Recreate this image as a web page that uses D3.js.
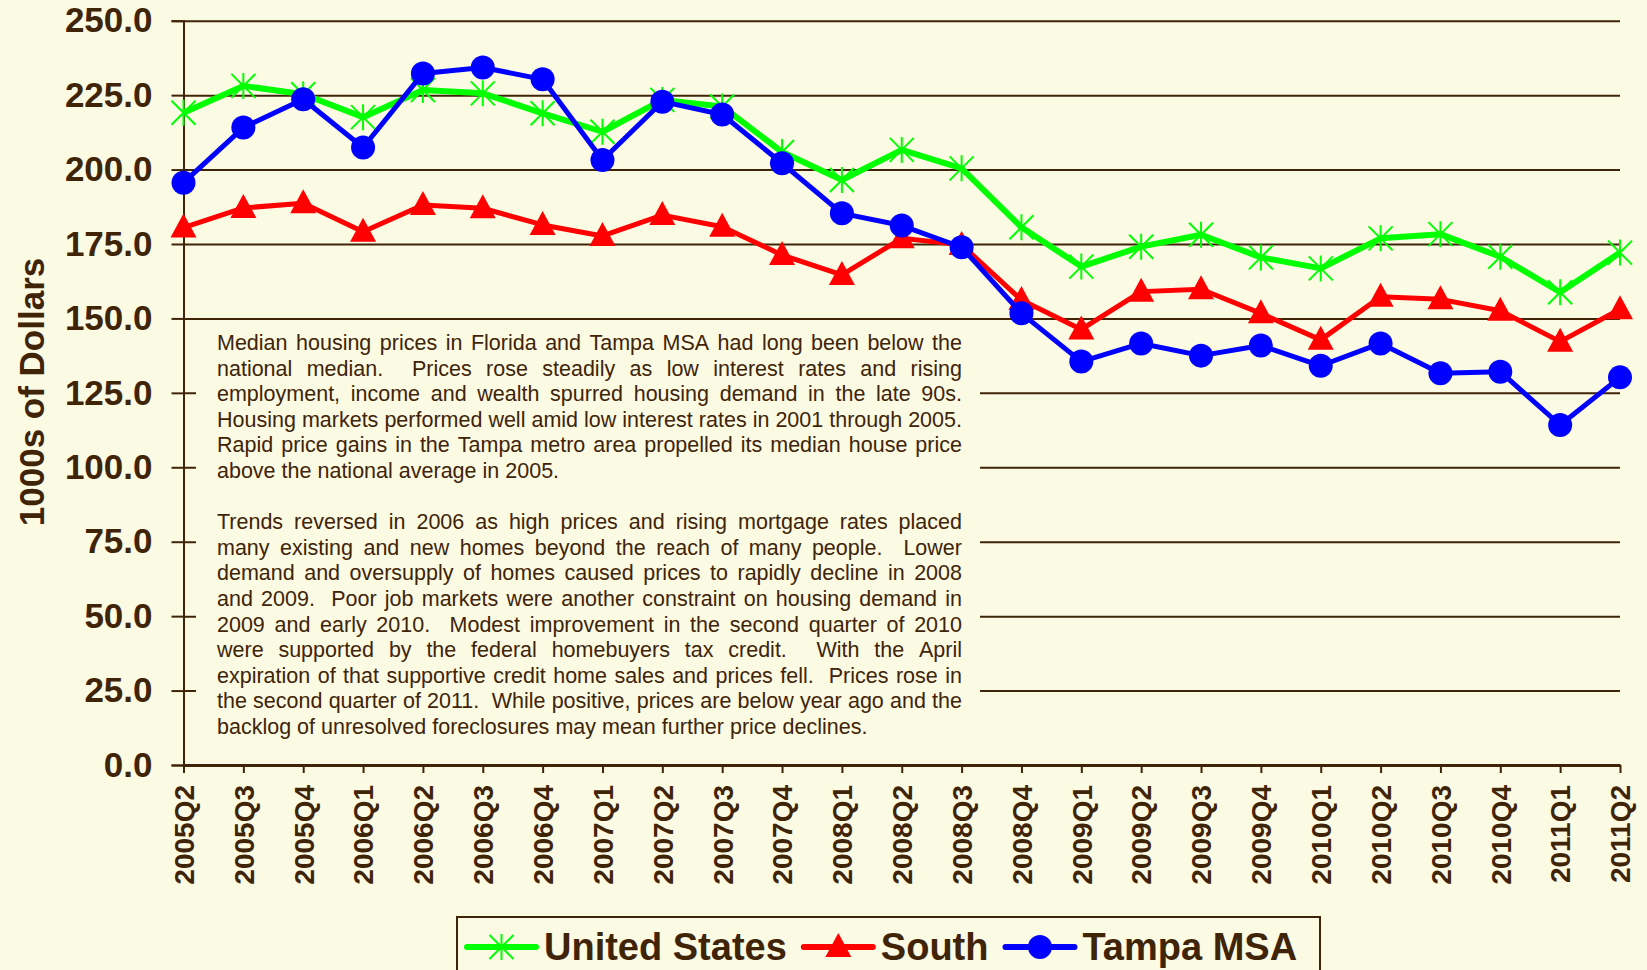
<!DOCTYPE html>
<html><head><meta charset="utf-8">
<script src="https://cdn.jsdelivr.net/npm/d3@7"></script>
<style>html,body{margin:0;padding:0;background:#FBFAE3;} svg{display:block}</style>
</head><body>
<svg id="chart" width="1647" height="970"></svg>
<script>
const categories = ["2005Q2","2005Q3","2005Q4","2006Q1","2006Q2","2006Q3","2006Q4","2007Q1","2007Q2","2007Q3","2007Q4","2008Q1","2008Q2","2008Q3","2008Q4","2009Q1","2009Q2","2009Q3","2009Q4","2010Q1","2010Q2","2010Q3","2010Q4","2011Q1","2011Q2"];
const usValues = [219.1, 228.1, 225.3, 217.6, 226.7, 225.6, 218.9, 212.7, 223.4, 221.2, 205.9, 196.5, 206.6, 200.4, 180.6, 167.4, 174.1, 178.1, 170.5, 166.8, 176.9, 178.3, 170.7, 158.8, 172.1];
const southValues = [180.5, 187.1, 188.7, 179.1, 188.1, 187.0, 181.4, 177.7, 184.7, 180.8, 171.3, 164.6, 176.9, 174.7, 156.2, 146.3, 159.0, 159.8, 151.7, 142.8, 157.3, 156.4, 152.6, 142.2, 153.1];
const tampaValues = [195.6, 214.1, 223.6, 207.4, 232.3, 234.3, 230.3, 203.2, 222.8, 218.5, 202.1, 185.3, 181.2, 173.9, 151.7, 135.5, 141.6, 137.5, 140.9, 134.1, 141.6, 131.6, 132.1, 114.2, 130.2];
const yTicks = [0, 25, 50, 75, 100, 125, 150, 175, 200, 225, 250];
const yTitle = "1000s of Dollars";
const seriesNames = ["United States", "South", "Tampa MSA"];
const paragraph1 = [
  "Median housing prices in Florida and Tampa MSA had long been below the",
  "national median.  Prices rose steadily as low interest rates and rising",
  "employment, income and wealth spurred housing demand in the late 90s.",
  "Housing markets performed well amid low interest rates in 2001 through 2005.",
  "Rapid price gains in the Tampa metro area propelled its median house price",
  "above the national average in 2005."
];
const paragraph2 = [
  "Trends reversed in 2006 as high prices and rising mortgage rates placed",
  "many existing and new homes beyond the reach of many people.  Lower",
  "demand and oversupply of homes caused prices to rapidly decline in 2008",
  "and 2009.  Poor job markets were another constraint on housing demand in",
  "2009 and early 2010.  Modest improvement in the second quarter of 2010",
  "were supported by the federal homebuyers tax credit.  With the April",
  "expiration of that supportive credit home sales and prices fell.  Prices rose in",
  "the second quarter of 2011.  While positive, prices are below year ago and the",
  "backlog of unresolved foreclosures may mean further price declines."
];

const ink = "#402408";
const bg = "#FBFAE3";
const colors = {us: "#00FF00", south: "#FF0000", tampa: "#0000FF"};
const boldFont = "'Liberation Sans', Arial, Helvetica, sans-serif";

const svg = d3.select("#chart");
svg.append("rect").attr("width", 1647).attr("height", 970).attr("fill", bg);

const x = d3.scalePoint().domain(categories).range([183.5, 1620]);
const y = d3.scaleLinear().domain([0, 250]).range([765, 20.7]);

// gridlines
const grid = svg.append("g").attr("transform", "translate(183.5,0)")
  .call(d3.axisLeft(y).tickValues(yTicks.filter(d => d > 0)).tickSize(-(1620 - 183.5)).tickFormat(""));
grid.select(".domain").remove();
grid.selectAll("line").attr("stroke", ink).attr("stroke-width", 2);

// text box background
svg.append("rect").attr("x", 196).attr("y", 321).attr("width", 784).attr("height", 428).attr("fill", bg);

// y axis
const yAxis = svg.append("g").attr("transform", "translate(183.5,0)")
  .call(d3.axisLeft(y).tickValues(yTicks).tickSize(12).tickPadding(19).tickFormat(d3.format(".1f")));
yAxis.select(".domain").attr("stroke", ink).attr("stroke-width", 2);
yAxis.selectAll("line").attr("stroke", ink).attr("stroke-width", 2);
yAxis.selectAll("text").attr("fill", ink).attr("font-family", boldFont).attr("font-weight", "bold").attr("font-size", 35);

// x axis
const xAxis = svg.append("g").attr("transform", "translate(0,765)")
  .call(d3.axisBottom(x).tickSize(8).tickSizeOuter(0));
xAxis.select(".domain").attr("stroke", ink).attr("stroke-width", 3);
xAxis.selectAll("line").attr("stroke", ink).attr("stroke-width", 2);
xAxis.selectAll("text").attr("fill", ink).attr("font-family", boldFont).attr("font-weight", "bold").attr("font-size", 28)
  .attr("text-anchor", "end").attr("transform", "translate(0,20) rotate(-90)").attr("x", 0).attr("y", 0).attr("dy", "0.35em");

// y title
svg.append("text").attr("transform", "translate(44,392) rotate(-90)").attr("text-anchor", "middle")
  .attr("fill", ink).attr("font-family", boldFont).attr("font-weight", "bold").attr("font-size", 35).text(yTitle);

// annotation text, justified
const tb = svg.append("g").attr("font-family", "'Liberation Sans Narrow','Arial Narrow','Liberation Sans',Arial,sans-serif").attr("fill", ink);
const meas = tb.append("text").attr("font-size", 20);
function w(s) { meas.text(s); return meas.node().getComputedTextLength(); }
const spaceW = w("a a") - w("aa");
const colW = 745, textX = 217;
function natural(line) {
  const toks = line.split(" ");
  return d3.sum(toks, t => t ? w(t) : 0) + (toks.length - 1) * spaceW;
}
const justified = paragraph1.slice(0, -1).concat(paragraph2.slice(0, -1));
const maxNat = d3.max(justified, natural);
const fs = 20 * colW / maxNat;
const f = fs / 20;
const lineH = 25.6;
let baseY = 350;
function w2(s) { return w(s) * f; }
function drawPara(lines) {
  lines.forEach((line, i) => {
    const toks = line.split(" ");
    const widths = toks.map(t => t ? w2(t) : 0);
    const last = i === lines.length - 1;
    const gap = last ? spaceW * f : (colW - d3.sum(widths)) / (toks.length - 1);
    const t = tb.append("text").attr("font-size", fs).attr("y", baseY);
    let cx = textX;
    toks.forEach((tok, k) => {
      if (tok) t.append("tspan").attr("x", cx).text(tok);
      cx += widths[k] + gap;
    });
    baseY += lineH;
  });
}
drawPara(paragraph1);
baseY += lineH;
drawPara(paragraph2);
meas.remove();

// series
const line = d3.line().x((d, i) => x(categories[i])).y(d => y(d));
function starPath() {
  const a = 12, v = 13;
  return `M${-a},${-a}L${a},${a}M${-a},${a}L${a},${-a}M0,${-v}L0,${v}`;
}
const triPath = "M0,-14L13,10L-13,10Z";

svg.append("path").datum(usValues).attr("d", line).attr("fill", "none").attr("stroke", colors.us).attr("stroke-width", 6).attr("stroke-linejoin", "round");
svg.append("g").selectAll("path").data(usValues).join("path")
  .attr("transform", (d, i) => `translate(${x(categories[i])},${y(d)})`).attr("d", starPath())
  .attr("stroke", colors.us).attr("stroke-width", 2).attr("fill", "none");

svg.append("path").datum(southValues).attr("d", line).attr("fill", "none").attr("stroke", colors.south).attr("stroke-width", 5).attr("stroke-linejoin", "round");
svg.append("g").selectAll("path").data(southValues).join("path")
  .attr("transform", (d, i) => `translate(${x(categories[i])},${y(d)})`).attr("d", triPath).attr("fill", colors.south);

svg.append("path").datum(tampaValues).attr("d", line).attr("fill", "none").attr("stroke", colors.tampa).attr("stroke-width", 5).attr("stroke-linejoin", "round");
svg.append("g").selectAll("circle").data(tampaValues).join("circle")
  .attr("cx", (d, i) => x(categories[i])).attr("cy", d => y(d)).attr("r", 12).attr("fill", colors.tampa);

// legend
const lg = svg.append("g");
lg.append("rect").attr("x", 457).attr("y", 917).attr("width", 863).attr("height", 70).attr("fill", bg).attr("stroke", ink).attr("stroke-width", 2);
const legendItems = [
  {name: seriesNames[0], color: colors.us, marker: "star"},
  {name: seriesNames[1], color: colors.south, marker: "tri"},
  {name: seriesNames[2], color: colors.tampa, marker: "circle"}
];
let lx = 467;
const ly = 947;
legendItems.forEach(it => {
  lg.append("line").attr("x1", lx).attr("x2", lx + 69).attr("y1", ly).attr("y2", ly)
    .attr("stroke", it.color).attr("stroke-width", 6).attr("stroke-linecap", "round");
  const cx = lx + 34.5;
  if (it.marker === "star") lg.append("path").attr("transform", `translate(${cx},${ly})`).attr("d", starPath()).attr("stroke", it.color).attr("stroke-width", 2).attr("fill", "none");
  if (it.marker === "tri") lg.append("path").attr("transform", `translate(${cx},${ly})`).attr("d", triPath).attr("fill", it.color);
  if (it.marker === "circle") lg.append("circle").attr("cx", cx).attr("cy", ly).attr("r", 12).attr("fill", it.color);
  const t = lg.append("text").attr("x", lx + 77).attr("y", 960).attr("fill", ink).attr("font-family", boldFont)
    .attr("font-weight", "bold").attr("font-size", 38).text(it.name);
  lx = lx + 77 + t.node().getComputedTextLength() + 17;
});
</script>
</body></html>
